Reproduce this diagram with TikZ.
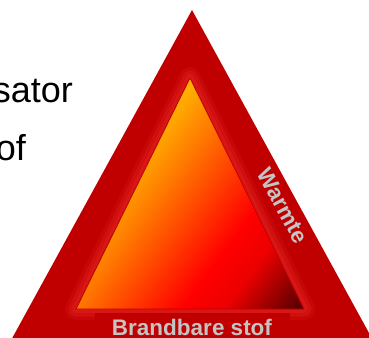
\documentclass[tikz,border=0pt]{standalone}
\usepackage{fontspec}
\setmainfont{Liberation Sans}
\newfontfamily\labfont{Liberation Sans}
\definecolor{outerred}{HTML}{C00000}
\definecolor{glowred}{HTML}{DC1A1A}
\definecolor{fy}{HTML}{FFB400}
\definecolor{fo}{HTML}{FF7800}
\definecolor{fr}{HTML}{FF0000}
\definecolor{fr2}{HTML}{EC0000}
\definecolor{fd}{HTML}{4A0000}
\definecolor{labgray}{HTML}{C4C4C4}
\pgfdeclarehorizontalshading{fireshade}{100bp}{color(0bp)=(fy); color(25bp)=(fy); color(35bp)=(fo); color(53.5bp)=(fr); color(61bp)=(fr2); color(75bp)=(fd); color(100bp)=(fd)}
\tikzset{
  bigtext/.style={font=\fontsize{36}{40}\selectfont, inner sep=0pt, text=black},
  sidelabel/.style={font=\labfont\bfseries\fontsize{22.5}{24}\selectfont, text=labgray, fill=outerred, inner sep=1pt},
  glow/.style={draw=glowred, line join=round},
}
\begin{document}
\begin{tikzpicture}[x=1pt,y=-1pt]
\useasboundingbox (0,0) rectangle (369,337);
\begin{scope}
\clip (0,0) rectangle (369,337);
\node[bigtext, anchor=base east] (t1) at (73,102) {sator};
\node[bigtext, anchor=base east] (t2) at (26,160) {of};
\coordinate (A) at (192,10);
\coordinate (B) at (0.2,360);
\coordinate (C) at (383.8,360);
\fill[outerred] (A)--(B)--(C)--cycle;
\coordinate (I1) at (190,78);
\coordinate (I2) at (76,309);
\coordinate (I3) at (304,309);
\draw[glow, line width=22, opacity=0.25] (I1)--(I2)--(I3)--cycle;
\draw[glow, line width=15, opacity=0.45] (I1)--(I2)--(I3)--cycle;
\draw[glow, line width=8, opacity=0.7] (I1)--(I2)--(I3)--cycle;
\fill[outerred] (95,313) rectangle (290,345);
\begin{scope}
\clip (I1)--(I2)--(I3)--cycle;
\begin{scope}[transform canvas={rotate=-36.87}]
\shade[shading=fireshade] (199,-60) rectangle (429,210);
\end{scope}
\end{scope}
\draw[red!75!black, line width=0.8, line join=round] (I1)--(I2)--(I3)--cycle;
\node[sidelabel, rotate=-61.3, minimum width=95pt] (warm) at (283,206) {Warmte};
\node[sidelabel, anchor=base, fill=none] (brand) at (192,335) {Brandbare stof};
\end{scope}
\end{tikzpicture}
\end{document}
